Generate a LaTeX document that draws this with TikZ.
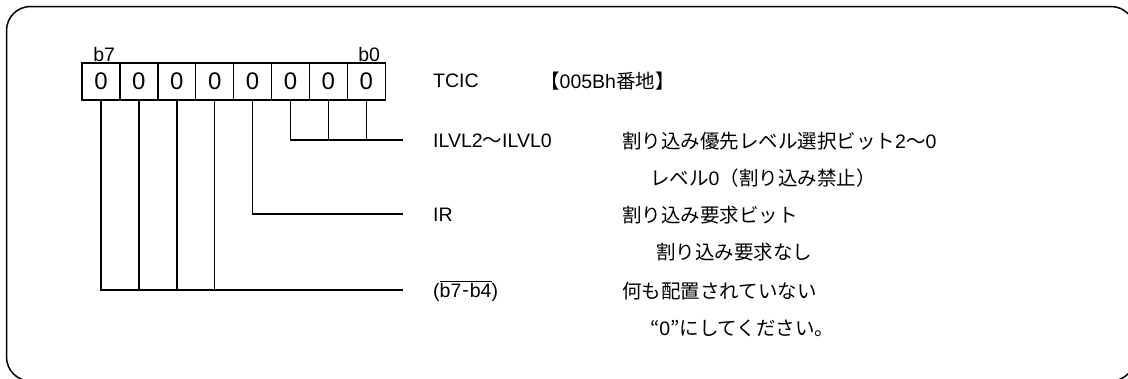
\documentclass[tikz,border=0pt]{standalone}
\usepackage{fontspec}
\setmainfont{Liberation Sans}
\newfontfamily\jp{Noto Sans CJK JP}
\usetikzlibrary{positioning}
\tikzset{
  cell/.style={draw,line width=1.4pt,minimum width=37.9pt,minimum height=37pt,
    inner sep=0pt,outer sep=0pt,font=\fontsize{24}{24}\selectfont},
  lbl/.style={anchor=west,inner sep=0pt,font=\fontsize{19.5}{22}\selectfont},
  wire/.style={line width=1.4pt}
}
\begin{document}
\begin{tikzpicture}[x=1pt,y=-1pt]
\useasboundingbox (0,0) rectangle (1128,378);
\clip (0,0) rectangle (1128,378);
% Cadre
\draw [line width=1.5pt,rounded corners=24pt] (6.5,6.5) rectangle (1135,381);
% Registre
\node [cell] (b7) at (101,81.5) {0};
\node [cell,right=0pt of b7] (b6) {0};
\node [cell,right=0pt of b6] (b5) {0};
\node [cell,right=0pt of b5] (b4) {0};
\node [cell,right=0pt of b4] (b3) {0};
\node [cell,right=0pt of b3] (b2) {0};
\node [cell,right=0pt of b2] (b1) {0};
\node [cell,right=0pt of b1] (b0) {0};
\node [lbl,anchor=south west] (n7) at ([xshift=11pt,yshift=1pt]b7.north west) {b7};
\node [lbl,anchor=south east] (n0) at ([xshift=-5pt,yshift=1pt]b0.north east) {b0};
% Textes
\node [lbl] (tcic) at (433,81) {TCIC};
\node [lbl] (addr) at (540,81) {{\jp 【}005Bh{\jp 番地】}};
\node [lbl] (ilvl) at (433,141) {ILVL2{\jp 〜}ILVL0};
\node [lbl] (ilvld) at (622,141) {{\jp 割り込み優先レベル選択ビット}2{\jp 〜}0};
\node [lbl] (ilvlv) at (650,178) {{\jp レベル}0{\jp （割り込み禁止）}};
\node [lbl] (ir) at (433,215) {IR};
\node [lbl] (ird) at (622,215) {\jp 割り込み要求ビット};
\node [lbl] (irv) at (656,252) {\jp 割り込み要求なし};
\node [lbl] (rsv) at (433,291) {($\overline{\hbox{b7\kern1pt\raise1pt\hbox{-}\kern1pt b4}}$)};
\node [lbl] (rsvd) at (622,291) {\jp 何も配置されていない};
\node [lbl] (rsvv) at (650,328) {{\jp “}0{\jp ”にしてください。}};
% Lignes
\coordinate (e2) at (403,140);
\coordinate (e3) at (403,214);
\coordinate (e7) at (403,290);
\draw [wire] (b2.south) |- (e2);
\draw [wire] (b1.south) -- (b1.south |- e2);
\draw [wire] (b0.south) -- (b0.south |- e2);
\draw [wire] (b3.south) |- (e3);
\draw [wire] (b7.south) |- (e7);
\draw [wire] (b6.south) -- (b6.south |- e7);
\draw [wire] (b5.south) -- (b5.south |- e7);
\draw [wire] (b4.south) -- (b4.south |- e7);
\end{tikzpicture}
\end{document}
